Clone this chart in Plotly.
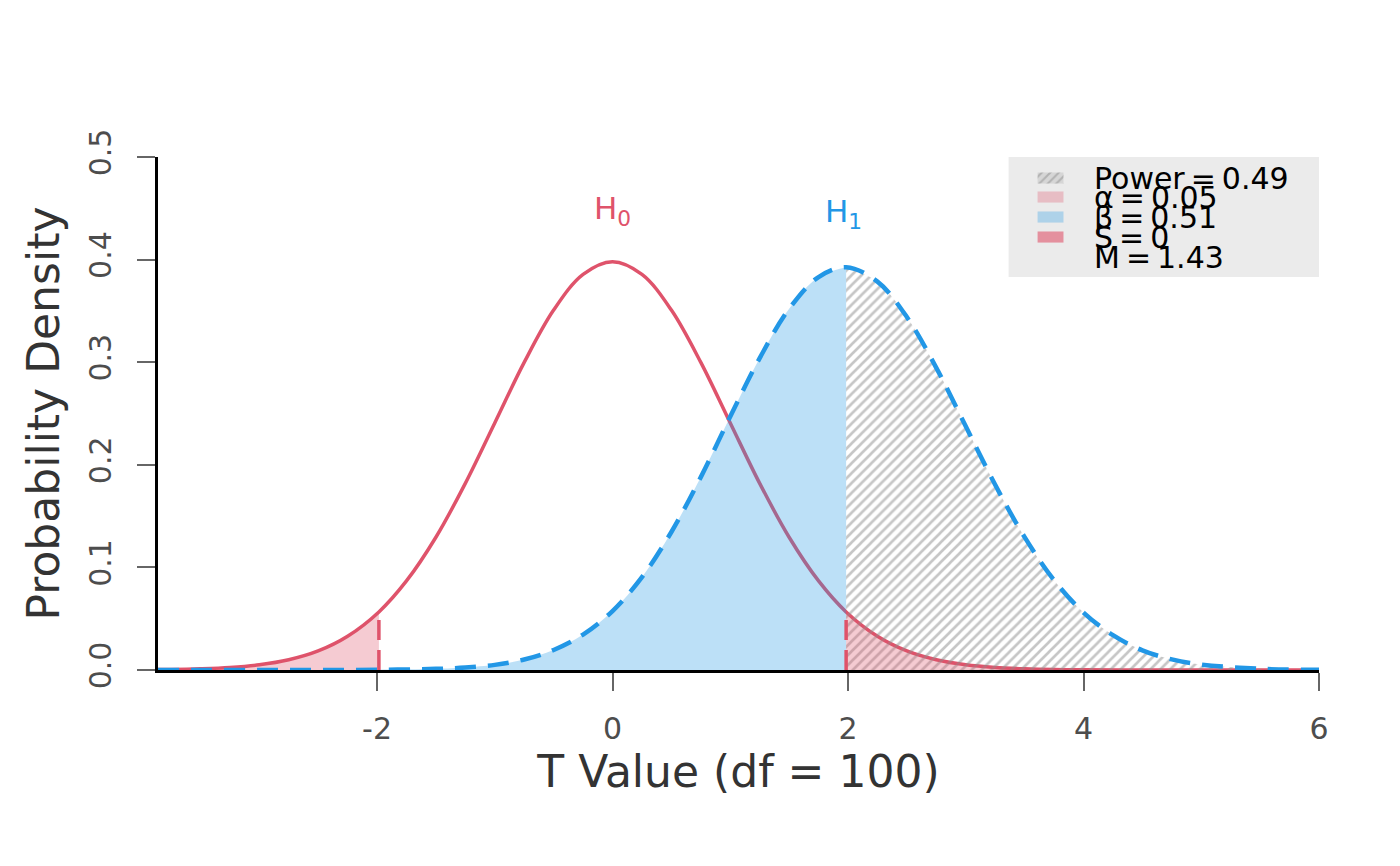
import plotly.graph_objects as go

# t value grid and densities
h0_x = [-3.86, -3.75, -3.5, -3.25, -3.0, -2.75, -2.5, -2.25, -1.984, -1.75, -1.5, -1.25, -1.0,
        -0.75, -0.5, -0.25, 0.0, 0.25, 0.5, 0.75, 1.0, 1.25, 1.5, 1.75, 1.984, 2.25, 2.5,
        2.75, 3.0, 3.25, 3.5, 3.75, 4.0, 4.5, 5.0, 6.0]
h0_y = [0.0004, 0.0005, 0.0012, 0.0025, 0.0051, 0.0100, 0.0186, 0.0329, 0.0566, 0.0868, 0.1294,
        0.1819, 0.2408, 0.2998, 0.3508, 0.3856, 0.3980, 0.3856, 0.3508, 0.2998, 0.2408, 0.1819,
        0.1294, 0.0868, 0.0566, 0.0329, 0.0186, 0.0100, 0.0051, 0.0025, 0.0012, 0.0005, 0.0002,
        0.0000, 0.0000, 0.0000]

h1_x = [-3.86, -3.5, -3.0, -2.5, -2.0, -1.5, -1.25, -1.0, -0.75, -0.5, -0.25, 0.0, 0.25, 0.5,
        0.75, 1.0, 1.25, 1.5, 1.75, 1.984, 2.25, 2.5, 2.75, 3.0, 3.25, 3.5, 3.75, 4.0, 4.25,
        4.5, 4.75, 5.0, 5.5, 6.0]
h1_y = [0.0, 0.0, 0.0, 0.0, 0.0002, 0.0011, 0.0024, 0.0050, 0.0102, 0.0195, 0.0345, 0.0575,
        0.0905, 0.1345, 0.1880, 0.2470, 0.3040, 0.3520, 0.3830, 0.3925, 0.3785, 0.3440, 0.2945,
        0.2375, 0.1805, 0.1295, 0.0875, 0.0560, 0.0340, 0.0192, 0.0103, 0.0053, 0.0012, 0.0002]

crit = 1.984
legend_labels = ['Power\u2009=\u20090.49', 'α\u2009=\u20090.05', 'β\u2009=\u20090.51',
                 'S\u2009=\u20090', 'M\u2009=\u20091.43']
x_ticks = [-2, 0, 2, 4, 6]
y_ticks = [0.0, 0.1, 0.2, 0.3, 0.4, 0.5]

RED = '#DF536B'
BLUE = '#2297E6'
FONT = 'DejaVu Sans'

def pick(xs, ys, keep):
    pts = [(a, b) for a, b in zip(xs, ys) if keep(a)]
    return [p[0] for p in pts], [p[1] for p in pts]

fig = go.Figure()

# null distribution
fig.add_trace(go.Scatter(x=h0_x, y=h0_y, mode='lines', line=dict(color=RED, width=3.5, shape='spline')))

# beta area and power (hatched) area under H1
bx, by = pick(h1_x, h1_y, lambda v: v <= crit)
fig.add_trace(go.Scatter(x=bx, y=by, mode='lines', fill='tozeroy', line=dict(width=0, shape='spline'),
                         fillcolor='rgba(34,151,230,0.3)'))
px, py = pick(h1_x, h1_y, lambda v: v >= crit)
fig.add_trace(go.Scatter(x=px, y=py, mode='lines', fill='tozeroy', line=dict(width=0, shape='spline'),
                         fillcolor='rgba(0,0,0,0)',
                         fillpattern=dict(shape='/', fgcolor='#8E8E8E', bgcolor='rgba(0,0,0,0)',
                                          size=7, solidity=0.38)))

# alpha areas under H0
for keep in (lambda v: v <= -crit, lambda v: v >= crit):
    ax, ay = pick(h0_x, h0_y, keep)
    fig.add_trace(go.Scatter(x=ax, y=ay, mode='lines', fill='tozeroy', line=dict(width=0, shape='spline'),
                             fillcolor='rgba(223,83,107,0.3)'))

# critical value markers
for c in (-crit, crit):
    hc = h0_y[h0_x.index(c)]
    fig.add_trace(go.Scatter(x=[c, c], y=[0, hc], mode='lines',
                             line=dict(color=RED, width=3.5, dash='20px,10px')))

# alternative distribution
fig.add_trace(go.Scatter(x=h1_x, y=h1_y, mode='lines',
                         line=dict(color=BLUE, width=4.5, dash='21px,12px', shape='spline')))

# legend box
fig.add_shape(type='rect', xref='x', yref='y', x0=3.364, x1=6, y0=0.383, y1=0.5,
              fillcolor='#EBEBEB', line=dict(width=0), layer='below')
rows = [0.4795, 0.461, 0.4415, 0.422, 0.4016]
sw_x0, sw_x1, sw_h = 3.61, 3.83, 0.0054
fig.add_trace(go.Scatter(x=[sw_x0, sw_x1, sw_x1, sw_x0, sw_x0],
                         y=[rows[0] - sw_h, rows[0] - sw_h, rows[0] + sw_h, rows[0] + sw_h, rows[0] - sw_h],
                         mode='lines', fill='toself', line=dict(width=0), fillcolor='rgba(0,0,0,0)',
                         fillpattern=dict(shape='/', fgcolor='#8E8E8E', bgcolor='#D6D6D6', size=6, solidity=0.35)))
for r, col in zip(rows[1:4], ['rgba(223,83,107,0.3)', 'rgba(34,151,230,0.3)', 'rgba(223,83,107,0.6)']):
    fig.add_shape(type='rect', xref='x', yref='y', x0=sw_x0, x1=sw_x1, y0=r - sw_h, y1=r + sw_h,
                  fillcolor=col, line=dict(width=0))
for r, lab in zip(rows, legend_labels):
    fig.add_annotation(x=4.07, y=r, text=lab, showarrow=False, xanchor='left', yanchor='middle',
                       font=dict(family=FONT, size=30, color='black'))

# curve labels
fig.add_annotation(x=0, y=0.448, text='H<sub>0</sub>', showarrow=False,
                   font=dict(family=FONT, size=31, color=RED))
fig.add_annotation(x=1.96, y=0.445, text='H<sub>1</sub>', showarrow=False,
                   font=dict(family=FONT, size=31, color=BLUE))

# the page adds an 8 px body margin, so margins are reduced by that amount
fig.update_layout(
    width=1400, height=866,
    margin=dict(l=150, r=89, t=149, b=204),
    paper_bgcolor='white', plot_bgcolor='white',
    showlegend=False,
    font=dict(family=FONT),
)
fig.update_xaxes(
    range=[-3.86, 6], tickvals=x_ticks, ticktext=[str(t) for t in x_ticks],
    showgrid=False, zeroline=False, showline=True, linecolor='black', linewidth=2.5,
    ticks='outside', ticklen=18, tickwidth=2, tickcolor='#666666',
    tickfont=dict(family=FONT, size=30, color='#4D4D4D'), ticklabelstandoff=12,
    title=dict(text='T Value (df = 100)', font=dict(family=FONT, size=44, color='#333333'), standoff=0),
)
fig.update_yaxes(
    range=[0, 0.5], tickvals=y_ticks, ticktext=['%.1f' % t for t in y_ticks], tickangle=-90,
    showgrid=False, zeroline=False, showline=True, linecolor='black', linewidth=2.5,
    ticks='outside', ticklen=18, tickwidth=2, tickcolor='#666666',
    tickfont=dict(family=FONT, size=30, color='#4D4D4D'), ticklabelstandoff=14,
    title=dict(text='Probability Density', font=dict(family=FONT, size=44, color='#333333'), standoff=10),
)

fig.write_html('out.html')
